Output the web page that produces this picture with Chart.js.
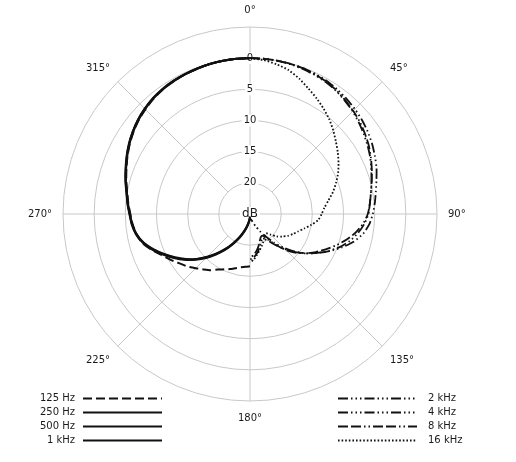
<!DOCTYPE html>
<html>
<head>
<meta charset="utf-8">
<script src="https://cdn.jsdelivr.net/npm/chart.js@4.4.1/dist/chart.umd.min.js"></script>
<style>
  html, body { margin: 0; padding: 0; background: #fff; }
</style>
</head>
<body>
<canvas id="chartId" width="516" height="462"></canvas>
<script>
const FONT = "'DejaVu Sans', sans-serif";

// angle of each spoke, degrees clockwise from 0° (5° steps)
const angleLabels = [0, 5, 10, 15, 20, 25, 30, 35, 40, 45, 50, 55, 60, 65, 70, 75, 80, 85,
  90, 95, 100, 105, 110, 115, 120, 125, 130, 135, 140, 145, 150, 155, 160, 165, 170, 175,
  180, 185, 190, 195, 200, 205, 210, 215, 220, 225, 230, 235, 240, 245, 250, 255, 260, 265,
  270, 275, 280, 285, 290, 295, 300, 305, 310, 315, 320, 325, 330, 335, 340, 345, 350, 355];
const degreeLabels = [0, 45, 90, 135, 180, 225, 270, 315];

// attenuation in dB, 0°..180° off axis in 5° steps
// low frequencies are drawn on the left half, high ones on the right half
const att125 = [0, 0, 0.05, 0.1, 0.2, 0.3, 0.45, 0.6, 0.9, 1.25, 1.65, 2.15, 2.7, 3.3, 3.9, 4.45, 5.0, 5.4,
  5.8, 6.1, 6.5, 7.1, 8.2, 9.4, 10.3, 11.2, 11.9, 12.7, 13.4, 14.0, 14.7, 15.2, 15.6, 16.0, 16.3, 16.5, 16.6];
const att250 = [0, 0, 0.05, 0.1, 0.15, 0.25, 0.35, 0.5, 0.75, 1.1, 1.5, 2.0, 2.55, 3.15, 3.75, 4.3, 4.85, 5.25,
  5.65, 5.95, 6.4, 7.2, 8.3, 9.6, 10.9, 12.2, 13.6, 15.0, 16.5, 17.9, 19.3, 20.5, 21.6, 22.5, 23.3, 23.9, 24.3];
const att500 = [0, 0, 0.05, 0.1, 0.2, 0.3, 0.45, 0.6, 0.85, 1.2, 1.6, 2.1, 2.65, 3.25, 3.85, 4.4, 4.95, 5.35,
  5.75, 6.05, 6.5, 7.3, 8.5, 9.8, 11.1, 12.4, 13.8, 15.3, 16.8, 18.2, 19.6, 20.8, 21.9, 22.8, 23.6, 24.2, 24.6];
const att1k = [0, 0, 0.05, 0.1, 0.2, 0.3, 0.4, 0.55, 0.8, 1.15, 1.55, 2.05, 2.6, 3.2, 3.8, 4.35, 4.9, 5.3,
  5.7, 6.0, 6.5, 7.3, 8.4, 9.7, 11.0, 12.3, 13.7, 15.2, 16.7, 18.1, 19.5, 20.7, 21.8, 22.7, 23.5, 24.1, 24.5];
const att2k = [0, 0, 0.05, 0.1, 0.25, 0.4, 0.6, 0.9, 1.3, 1.7, 2.2, 2.7, 3.2, 3.7, 4.3, 4.8, 5.3, 5.7,
  6.0, 6.6, 7.4, 8.4, 9.6, 11.0, 12.5, 14.0, 15.6, 17.3, 19.0, 20.6, 21.8, 22.8, 23.5, 23.9, 24.1, 24.2, 24.2];
const att4k = [0, 0, 0, 0.05, 0.1, 0.2, 0.35, 0.6, 0.9, 1.2, 1.55, 1.95, 2.4, 2.9, 3.4, 4.0, 4.5, 4.9,
  5.3, 5.8, 6.6, 7.8, 9.3, 10.9, 12.5, 14.0, 15.5, 17.0, 18.4, 19.6, 20.3, 20.4, 20.0, 19.3, 18.6, 18.0, 17.7];
const att8k = [0, 0, 0, 0.05, 0.15, 0.3, 0.5, 0.8, 1.2, 1.6, 2.0, 2.5, 3.0, 3.6, 4.2, 4.8, 5.3, 5.7,
  6.1, 6.8, 7.8, 9.0, 10.3, 11.6, 12.8, 14.0, 15.3, 16.8, 18.5, 20.0, 21.0, 20.9, 20.4, 19.7, 19.0, 18.4, 18.0];
const att16k = [0, 0.2, 0.6, 1.1, 1.9, 2.8, 3.6, 4.4, 5.2, 6.1, 7.0, 7.8, 8.6, 9.4, 10.3, 11.2, 12.2, 13.0,
  13.5, 14.0, 15.0, 16.0, 16.8, 17.4, 18.0, 18.7, 19.4, 20.3, 21.0, 20.8, 20.5, 20.0, 19.5, 19.0, 18.4, 17.7, 17.2];

// radial ticks: -5 is the outer ring, 25 the centre
const tickValues = [-5, 0, 5, 10, 15, 20, 25];
const tickLabels = ['', '0', '5', '10', '15', '20', 'dB'];

const legendRows = [398, 412, 426, 440];

function rightHalf(att) {
  return angleLabels.map((a, i) => (i <= 36 ? att[i] : null));
}
function leftHalf(att) {
  return angleLabels.map((a, i) => (i === 0 ? att[0] : i >= 36 ? att[72 - i] : null));
}

const dashDot3 = [10, 3, 1.5, 3, 1.5, 3, 1.5, 3];
const series = [
  { label: "125 Hz", data: leftHalf(att125), borderDash: [9, 4], borderWidth: 2 },
  { label: "250 Hz", data: leftHalf(att250), borderDash: [], borderWidth: 2 },
  { label: "500 Hz", data: leftHalf(att500), borderDash: [], borderWidth: 2 },
  { label: "1 kHz", data: leftHalf(att1k), borderDash: [], borderWidth: 2 },
  { label: "2 kHz", data: rightHalf(att2k), borderDash: dashDot3, borderWidth: 1.8 },
  { label: "4 kHz", data: rightHalf(att4k), borderDash: dashDot3, borderWidth: 1.8 },
  { label: "8 kHz", data: rightHalf(att8k), borderDash: [10, 3, 10, 3, 1.5, 3, 1.5, 3], borderWidth: 1.8 },
  { label: "16 kHz", data: rightHalf(att16k), borderDash: [1.6, 2], borderWidth: 1.8 },
];

// legend: low frequencies on the left, high ones on the right
const sideLegend = {
  id: "sideLegend",
  afterDraw(chart) {
    const ctx = chart.ctx;
    ctx.save();
    ctx.font = "10px " + FONT;
    ctx.textBaseline = "middle";
    ctx.strokeStyle = "#111";
    ctx.fillStyle = "#1a1a1a";
    chart.data.datasets.forEach((ds, i) => {
      const left = i < 4;
      const y = legendRows[left ? i : i - 4] + 0.5;
      const x0 = left ? 83 : 338;
      ctx.lineWidth = 1.8;
      ctx.setLineDash(ds.borderDash);
      ctx.beginPath();
      ctx.moveTo(x0, y);
      ctx.lineTo(x0 + 79, y);
      ctx.stroke();
      ctx.setLineDash([]);
      ctx.textAlign = left ? "right" : "left";
      ctx.fillText(ds.label, left ? 75 : 428, y);
    });
    ctx.restore();
  },
};

const chrt = document.getElementById("chartId").getContext("2d");
const chart = new Chart(chrt, {
  type: "radar",
  data: {
    labels: angleLabels,
    datasets: series.map((s) => ({
      ...s,
      borderColor: "#111",
      fill: false,
      pointRadius: 0,
      tension: 0.2,
      spanGaps: false,
    })),
  },
  options: {
    responsive: false,
    animation: false,
    layout: { padding: { left: 0, right: 16, top: 4, bottom: 38 } },
    plugins: {
      legend: { display: false },
      tooltip: { enabled: false },
    },
    scales: {
      r: {
        min: -5,
        max: 25,
        reverse: true,
        startAngle: 0,
        grid: { circular: true, color: "#c8c8c8", lineWidth: 1 },
        angleLines: {
          color: "#c8c8c8",
          lineWidth: (c) => (c.index % 9 === 0 ? 1 : 0),
          borderDash: (c) => (c.index % 18 === 9 ? [0, 31, 400] : []),
        },
        pointLabels: {
          padding: 5,
          color: "#1a1a1a",
          font: { family: FONT, size: 10 },
          callback: (label) => (degreeLabels.includes(label) ? label + "°" : ""),
        },
        ticks: {
          stepSize: 5,
          reverse: true,
          color: "#1a1a1a",
          font: (c) => ({ family: FONT, size: c.tick && c.tick.value === 25 ? 12 : 10 }),
          backdropColor: "#fff",
          backdropPadding: { x: 2, y: 1 },
          showLabelBackdrop: (c) => !(c.tick && c.tick.value === -5),
          callback: (value) => tickLabels[tickValues.indexOf(value)],
        },
      },
    },
  },
  plugins: [sideLegend],
});
</script>
</body>
</html>
